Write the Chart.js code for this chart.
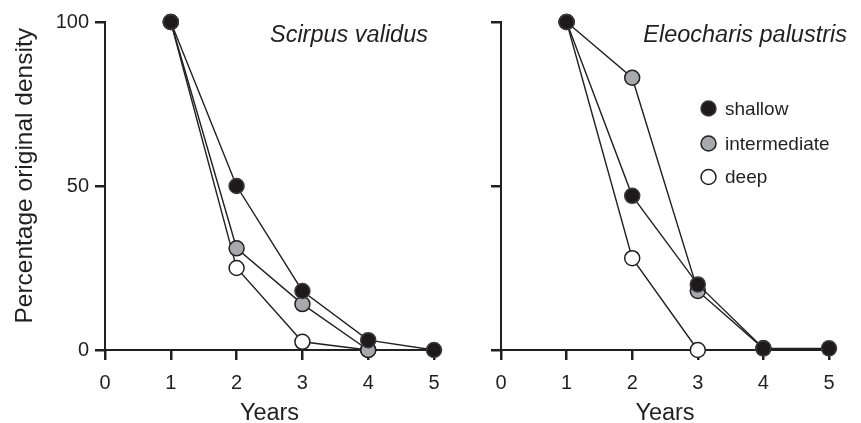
<!DOCTYPE html>
<html>
<head>
<meta charset="utf-8">
<script src="https://cdn.jsdelivr.net/npm/chart.js@4"></script>
<style>
html,body{margin:0;padding:0;background:#fff;}
#wrap{position:relative;width:861px;height:423px;}
#leftBox{position:absolute;left:0;top:0;width:455px;height:423px;}
#rightBox{position:absolute;left:455px;top:0;width:406px;height:423px;}
</style>
</head>
<body>
<div id="wrap">
  <div id="leftBox"><canvas id="scirpusChart" width="455" height="423"></canvas></div>
  <div id="rightBox"><canvas id="eleocharisChart" width="406" height="423"></canvas></div>
</div>
<script>
// years on the x axis, percentages on the y axis
const years = [1, 2, 3, 4, 5];
const xTicks = [0, 1, 2, 3, 4, 5];
const yTicks = [0, 50, 100];
const seriesNames = ['shallow', 'intermediate', 'deep'];

// Scirpus validus
const scirpusShallow = [100, 50, 18, 3, 0];
const scirpusIntermediate = [100, 31, 14, 0];
const scirpusDeep = [100, 25, 2.5, 0];

// Eleocharis palustris
const eleoShallow = [100, 47, 20, 0.5, 0.5];
const eleoIntermediate = [100, 83, 18, 0.5];
const eleoDeep = [100, 28, 0];

const ink = '#231f20';
const fills = ['#1c1a1b', '#a7a9ac', '#ffffff'];
const edges = ['#3c3a3b', ink, ink];
const FONT = "'Liberation Sans', Arial, sans-serif";

function makeDatasets(seriesList){
    return seriesList.map((vals, i) => ({
        label: seriesNames[i],
        data: vals.map((v, j) => ({x: years[j], y: v})),
        borderColor: ink,
        borderWidth: 1.4,
        pointRadius: 7.5,
        pointHoverRadius: 7.5,
        pointBorderWidth: 1.5,
        pointBackgroundColor: fills[i],
        pointBorderColor: edges[i],
        clip: false,
        tension: 0,
    }));
}

// draws the italic species name and (optionally) the legend inside the plot
const panelText = {
    id: 'panelText',
    afterDraw(chart, args, opts){
        const ctx = chart.ctx;
        ctx.save();
        ctx.fillStyle = ink;
        ctx.font = "italic 23.5px " + FONT;
        ctx.textAlign = 'right';
        ctx.textBaseline = 'alphabetic';
        ctx.fillText(opts.title, opts.titleX, 41.5);

        if (opts.legend) {
            ctx.font = "19px " + FONT;
            ctx.textAlign = 'left';
            ctx.textBaseline = 'middle';
            chart.data.datasets.forEach((ds, i) => {
                const cy = opts.legendY[i];
                ctx.beginPath();
                ctx.arc(opts.legendX, cy, 7.5, 0, Math.PI * 2);
                ctx.fillStyle = ds.pointBackgroundColor;
                ctx.fill();
                ctx.lineWidth = 1.5;
                ctx.strokeStyle = ds.pointBorderColor;
                ctx.stroke();
                ctx.fillStyle = ink;
                ctx.fillText(ds.label, opts.legendX + 16.5, cy + 1);
            });
        }
        ctx.restore();
    }
};

function panelChart(canvasId, seriesList, cfg){
    const ctx = document.getElementById(canvasId);
    new Chart(ctx, {
    type: 'line',
    data: {
        datasets: makeDatasets(seriesList)
    },
    options: {
        responsive: false,
        animation: false,
        layout: {
            padding: {top: 22, right: cfg.padRight, left: 0, bottom: 0}
        },
        scales: {
        x: {
            type: 'linear',
            min: 0,
            max: 5,
            afterBuildTicks: (scale) => { scale.ticks = xTicks.map(v => ({value: v})); },
            afterFit: (scale) => { scale.height = 73; },
            ticks: {
                color: ink,
                font: {family: FONT, size: 20},
                padding: 11,
                maxRotation: 0,
            },
            grid: {
                drawOnChartArea: false,
                drawTicks: true,
                tickLength: 10,
                color: ink,
                lineWidth: 2.5,
            },
            border: {display: true, color: ink, width: 2},
            title: {
                display: true,
                text: 'Years',
                color: ink,
                font: {family: FONT, size: 23.5, lineHeight: 0.8},
                padding: 0,
            },
        },
        y: {
            min: 0,
            max: 100,
            afterBuildTicks: (scale) => { scale.ticks = yTicks.map(v => ({value: v})); },
            afterFit: (scale) => { scale.width = cfg.yWidth; },
            ticks: {
                display: cfg.yLabels,
                color: ink,
                font: {family: FONT, size: 20},
                padding: 6,
            },
            grid: {
                drawOnChartArea: false,
                drawTicks: true,
                tickLength: 10,
                color: ink,
                lineWidth: 2.5,
            },
            border: {display: true, color: ink, width: 2},
            title: {
                display: cfg.yLabels,
                // leading spaces nudge the centred label upwards like the original
                text: '\u00a0\u00a0\u00a0Percentage original density',
                color: ink,
                font: {family: FONT, size: 24.5},
                padding: {top: 11, bottom: 0},
            },
        },
        },
        plugins: {
            legend: {display: false},
            tooltip: {enabled: false},
            panelText: cfg.text,
        }
    },
    plugins: [panelText],
    });
}

panelChart('scirpusChart', [scirpusShallow, scirpusIntermediate, scirpusDeep], {
    padRight: 21,
    yWidth: 105,
    yLabels: true,
    text: {title: 'Scirpus validus', titleX: 428, legend: false},
});

panelChart('eleocharisChart', [eleoShallow, eleoIntermediate, eleoDeep], {
    padRight: 32,
    yWidth: 46,
    yLabels: false,
    text: {title: 'Eleocharis palustris', titleX: 392, legend: true, legendX: 253.5, legendY: [108.5, 143.5, 177]},
});
</script>
</body>
</html>
